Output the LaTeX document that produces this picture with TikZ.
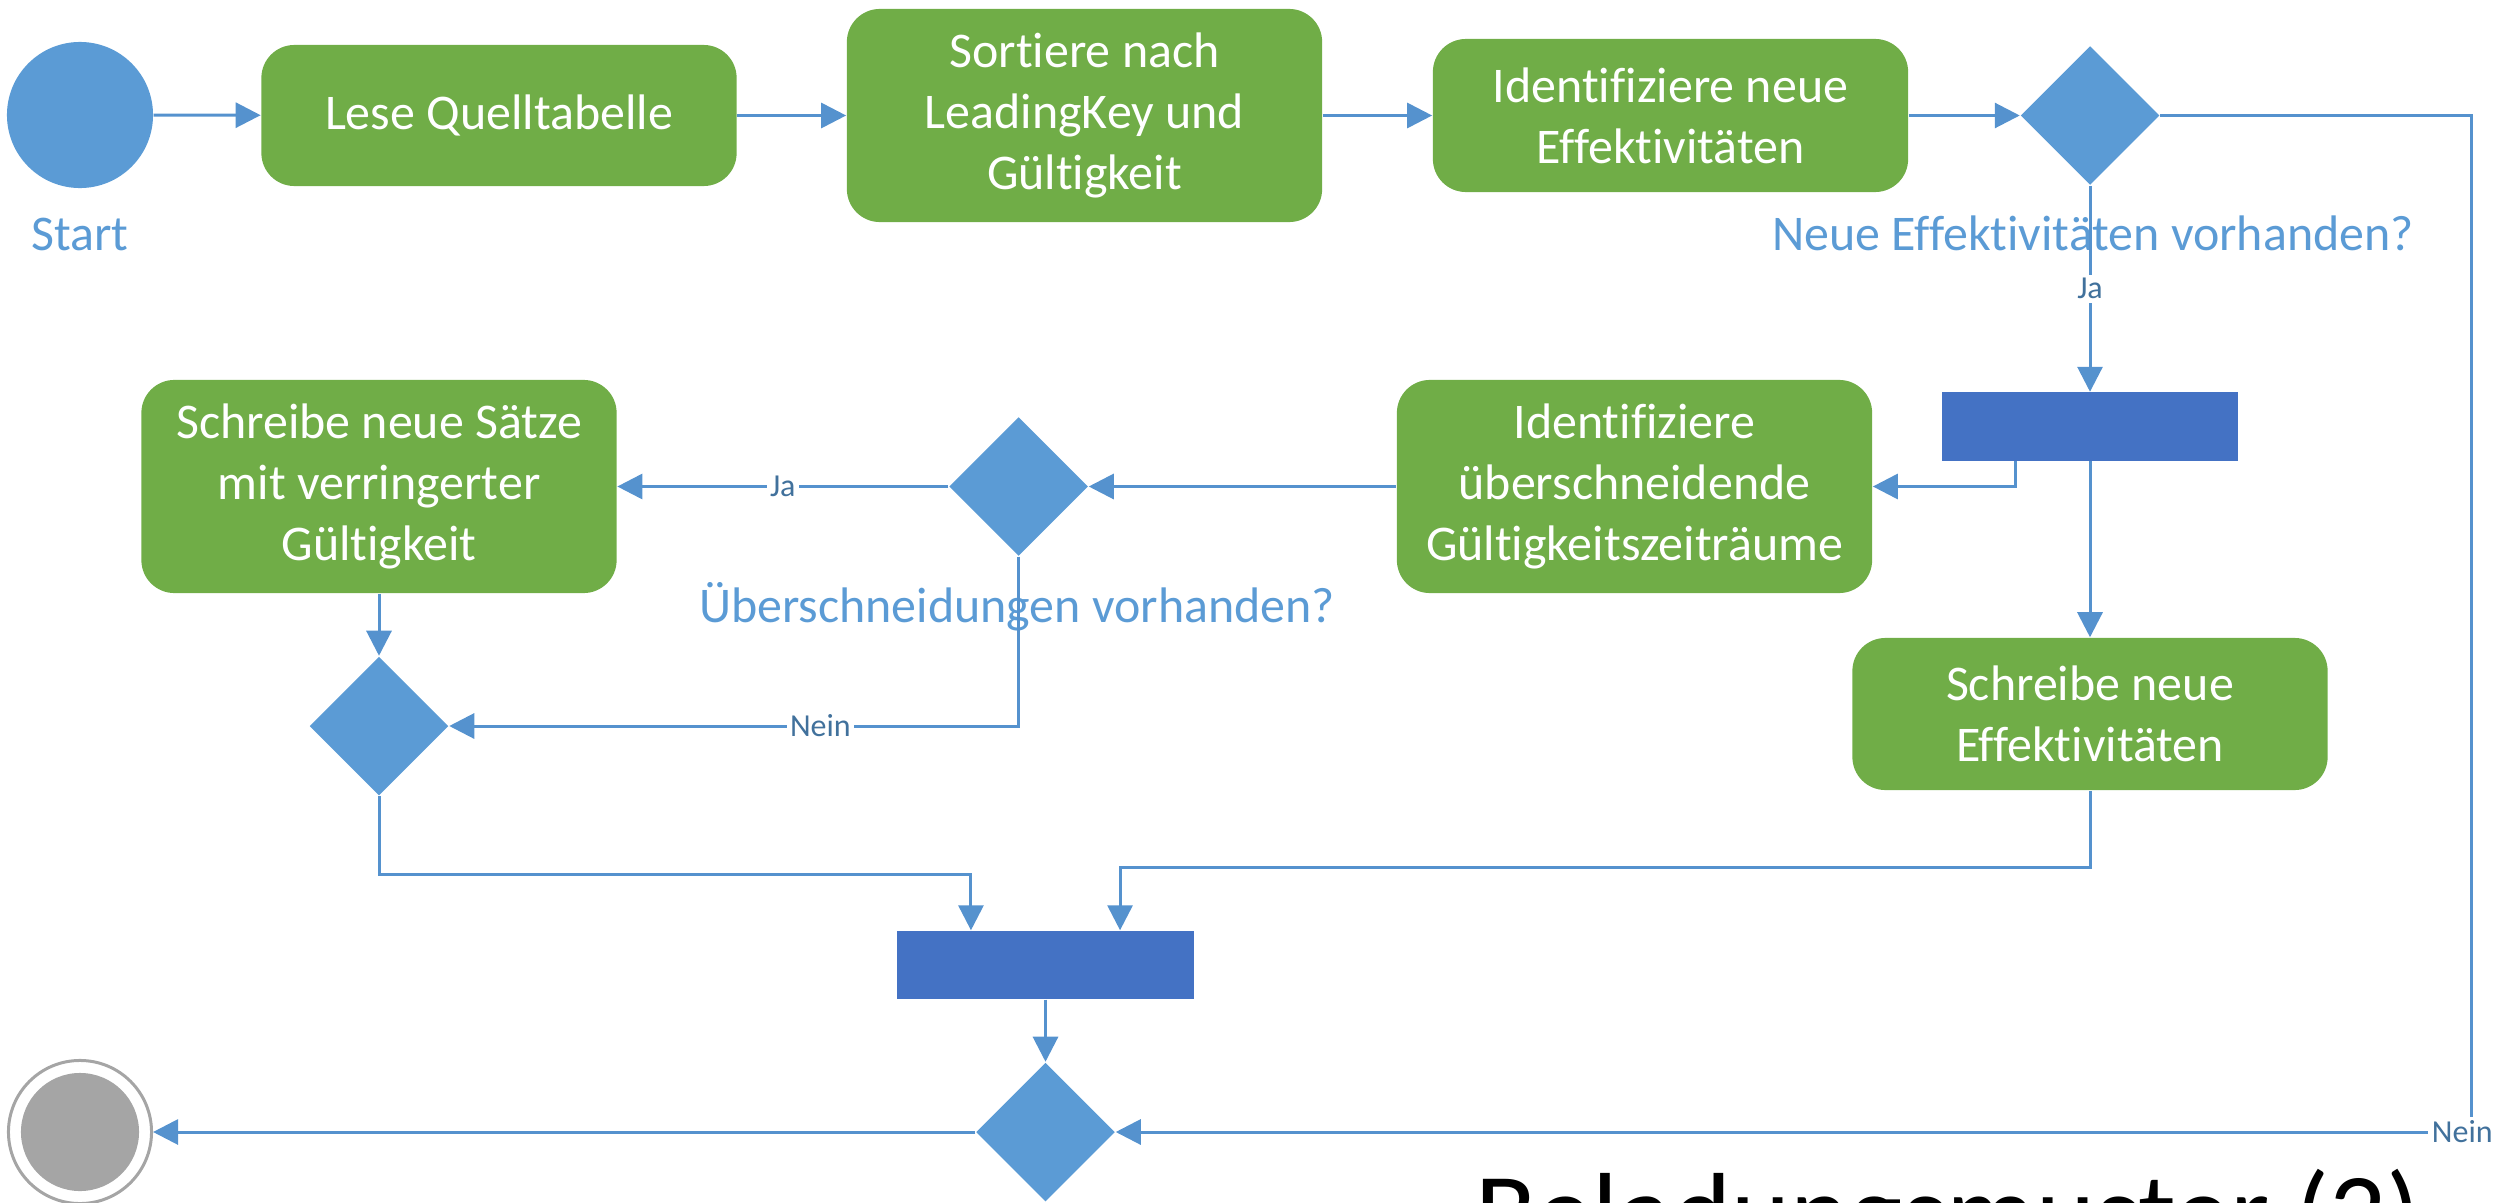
\documentclass[tikz,border=0pt]{standalone}
\usepackage{fontspec}
\setmainfont{Carlito}[Ligatures={NoCommon}]
\usetikzlibrary{shapes.geometric}
\usetikzlibrary{arrows.meta}

\definecolor{actgreen}{HTML}{70AD47}
\definecolor{decblue}{HTML}{5B9BD5}
\definecolor{barblue}{HTML}{4472C4}
\definecolor{flowblue}{HTML}{5592CE}
\definecolor{lblblue}{HTML}{41719C}
\definecolor{endgray}{HTML}{A5A5A5}

\begin{document}
\begin{tikzpicture}[x=0.01cm, y=-0.01cm,
    action/.style={rectangle, rounded corners=0.33cm, fill=actgreen, text=white, align=center,
        minimum width=4.75cm, inner sep=0pt, font=\fontsize{14.2}{17.3}\selectfont},
    decision/.style={diamond, fill=decblue, minimum width=1.39cm, minimum height=1.39cm, inner sep=0pt},
    syncbar/.style={rectangle, fill=barblue, minimum width=2.96cm, minimum height=0.68cm, inner sep=0pt},
    caption/.style={text=decblue, anchor=base, font=\fontsize{14.2}{17.3}\selectfont},
    flow/.style={draw=flowblue, line width=0.03cm, -{Triangle[length=0.25cm, width=0.25cm]}},
    elbl/.style={fill=white, text=lblblue, inner sep=1pt, font=\fontsize{9.1}{11}\selectfont}]
    \useasboundingbox (0,0) rectangle (2496,1203);

    % start and end
    \node[circle, fill=decblue, minimum size=1.46cm, inner sep=0pt] (start) at (80,115) {};
    \node[caption] (start_lbl) at (80,250) {Start};
    \node[circle, draw=endgray, line width=0.03cm, minimum size=1.43cm, inner sep=0pt,
        path picture={\fill[endgray] (path picture bounding box.center) circle (0.59cm);}] (stop) at (80,1132) {};

    % top row
    \node[action, minimum height=1.41cm] (read_src) at (499,115.5) {Lese Quelltabelle};
    \node[action, minimum height=2.13cm] (sort_key) at (1084.5,115.5) {Sortiere nach\\LeadingKey und\\Gültigkeit};
    \node[action, minimum height=1.53cm] (ident_new) at (1670.5,115.5) {Identifiziere neue\\Effektivitäten};
    \node[decision] (dec_new) at (2090,115.5) {};
    \node[caption] (dec_new_lbl) at (2093,250) {Neue Effektivitäten vorhanden?};

    % middle row
    \node[syncbar] (fork_top) at (2090,426.5) {};
    \node[action, minimum height=2.13cm] (ident_ovl) at (1634.5,486.5) {Identifiziere\\überschneidende\\Gültigkeitszeiträume};
    \node[decision] (dec_ovl) at (1018.5,486.5) {};
    \node[caption] (dec_ovl_lbl) at (1017,622) {Überschneidungen vorhanden?};
    \node[action, minimum height=2.13cm] (write_rec) at (379,486.5) {Schreibe neue Sätze\\mit verringerter\\Gültigkeit};
    \node[decision] (dec_rec) at (379,726) {};
    \node[action, minimum height=1.52cm] (write_new) at (2090,714) {Schreibe neue\\Effektivitäten};

    % bottom
    \node[syncbar] (join_bottom) at (1045.5,965) {};
    \node[decision] (dec_end) at (1045.5,1132) {};
    \node[anchor=base west, font=\fontsize{32}{38}\selectfont] (title) at (1463,1251) {Beladungsmuster (2)};

    \draw[flow] (start) -- (read_src);
    \draw[flow] (read_src) -- (sort_key);
    \draw[flow] (sort_key) -- (ident_new);
    \draw[flow] (ident_new) -- (dec_new);
    \draw[flow] (dec_new) -- node[elbl] {Ja} (fork_top);
    \draw[flow] (dec_new.east) -- ++(311,0) |- node[elbl, xshift=-0.09cm] {Nein} (dec_end.east);
    \draw[flow] ([xshift=-0.74cm]fork_top.south) |- (ident_ovl.east);
    \draw[flow] (fork_top) -- (write_new);
    \draw[flow] (ident_ovl) -- (dec_ovl);
    \draw[flow] (dec_ovl) -- node[elbl] {Ja} (write_rec);
    \draw[flow] (dec_ovl.south) |- node[elbl, pos=0.674] {Nein} (dec_rec.east);
    \draw[flow] (write_rec) -- (dec_rec);
    \draw[flow] (dec_rec.south) -- ++(0,78) -| ([xshift=-0.745cm]join_bottom.north);
    \draw[flow] (write_new.south) -- ++(0,77) -| ([xshift=0.745cm]join_bottom.north);
    \draw[flow] (join_bottom) -- (dec_end);
    \draw[flow] (dec_end) -- (stop);
\end{tikzpicture}
\end{document}
